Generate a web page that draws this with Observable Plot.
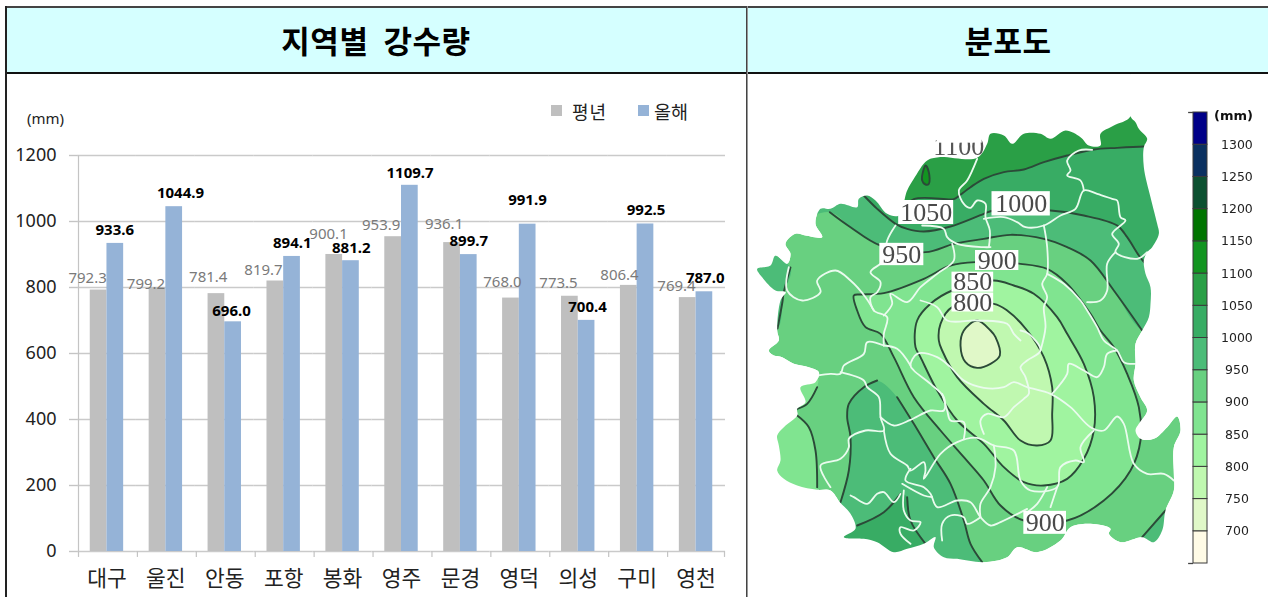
<!DOCTYPE html>
<html lang="ko">
<head>
<meta charset="utf-8">
<script src="https://cdn.jsdelivr.net/npm/d3@7"></script>
<script src="https://cdn.jsdelivr.net/npm/@observablehq/plot@0.6"></script>
<style>
html,body{margin:0;padding:0;background:#fff;overflow:hidden}
#page{position:relative;width:1268px;height:597px;overflow:hidden;font-family:"Noto Sans CJK KR","Noto Sans",sans-serif;color:#000}
#page>div,#page>svg,.abs{position:absolute}
.head{top:8px;height:62px;background:#d5ffff;display:flex;align-items:center;justify-content:center;font-weight:700;font-size:31px;line-height:1;word-spacing:6px;letter-spacing:.5px;padding-bottom:2px}
.line{background:#222}
.svgbox{background:transparent}
.svgbox svg{display:block;background:transparent;overflow:visible}
#map{width:520px;height:523px;overflow:hidden}
#map svg{overflow:hidden}
</style>
</head>
<body>
<div id="page">
  <div class="head" style="left:6px;width:740px">지역별 강수량</div>
  <div class="head" style="left:748px;width:520px">분포도</div>
  <div id="bars" class="svgbox" style="left:6px;top:74px"></div>
  <div id="map" class="svgbox" style="left:748px;top:74px;filter:blur(.55px)"></div>
  <div id="scale" class="svgbox" style="left:1170px;top:100px;filter:blur(.25px)"></div>
  <div class="line" style="left:5px;top:6px;width:1263px;height:2px;background:#444"></div>
  <div class="line" style="left:5px;top:72px;width:1263px;height:2px;background:#111"></div>
  <div class="line" style="left:5px;top:6px;width:1.5px;height:591px;background:#222"></div>
  <div class="line" style="left:746px;top:6px;width:2px;height:591px;background:linear-gradient(90deg,#444 50%,#999 50%)"></div>
  <div style="left:27px;top:108px;font-size:15px;line-height:20px;font-family:'Noto Sans',sans-serif;color:#222">(mm)</div>
  <div style="left:551px;top:105px;width:11px;height:11px;background:#bfbfbf"></div>
  <div style="left:572px;top:100px;font-size:18px;line-height:22px;letter-spacing:1px;color:#222">평년</div>
  <div style="left:638px;top:105px;width:11px;height:11px;background:#95b3d7"></div>
  <div style="left:654px;top:100px;font-size:18.5px;line-height:22px;color:#222">올해</div>
</div>
<script>
// ---------- chart data ----------
const regions = ["대구","울진","안동","포항","봉화","영주","문경","영덕","의성","구미","영천"];
const seriesNames = ["평년","올해"];
const normalValues = [792.3,799.2,781.4,819.7,900.1,953.9,936.1,768.0,773.5,806.4,769.4];
const thisYearValues = [933.6,1044.9,696.0,894.1,881.2,1109.7,899.7,991.9,700.4,992.5,787.0];
const yTicks = [0,200,400,600,800,1000,1200];

// Hand placed offsets of the value labels, in pixels from the top of each bar
const normalLabelDx = [-11,-11.5,-8.2,-11.8,-5.7,-12,-8,-8.5,-11.4,-9.3,-11.2];
const normalLabelDy = [-11.8,-3.6,-16.1,-11,-20,-11.5,-18.8,-15.9,-13.1,-10.2,-11.8];
const thisYearLabelDx = [-0.5,6.3,-1.6,0.2,0.3,0.2,0,-0.2,0.9,0.5,0.8];
const thisYearLabelDy = [-12.9,-13.5,-10.3,-13,-12.9,-11.8,-13.4,-23.7,-13.2,-13.5,-13.3];

// ---------- colour scale of the map ----------
const levelLabels = [700,750,800,850,900,950,1000,1050,1100,1150,1200,1250,1300];
const binLows = [650,700,750,800,850,900,950,1000,1050,1100,1150,1200,1250,1300];
const binColors = ["#fffbe6","#e0f8c8","#c0f8b0","#a0f4a0","#80e490","#68d080","#4cbc78","#38ac64","#2a9f46","#129420","#007400","#0c5030","#0a3060","#000088"];

// ---------- map geometry, in map units ----------
const outline = [[1140,47],[1155,65],[1165,85],[1190,115],[1180,140],[1180,200],[1200,290],[1220,370],[1225,400],[1205,440],[1190,455],[1180,480],[1185,520],[1200,560],[1200,610],[1195,650],[1175,690],[1155,730],[1155,790],[1150,840],[1170,890],[1190,930],[1165,970],[1155,990],[1170,1015],[1210,1015],[1250,980],[1280,948],[1290,990],[1270,1040],[1270,1120],[1270,1170],[1245,1230],[1235,1290],[1210,1325],[1175,1310],[1110,1325],[1075,1300],[1080,1285],[1020,1270],[960,1280],[930,1320],[860,1355],[800,1340],[770,1370],[700,1385],[620,1375],[580,1370],[550,1340],[555,1310],[520,1330],[470,1345],[430,1355],[380,1325],[340,1315],[280,1310],[315,1285],[300,1240],[268,1205],[240,1170],[200,1168],[140,1155],[100,1135],[80,1110],[90,1080],[85,1035],[80,1005],[100,980],[140,945],[140,925],[165,905],[150,860],[195,845],[205,815],[175,800],[130,790],[95,770],[70,765],[55,750],[85,720],[80,690],[90,600],[105,575],[75,570],[35,530],[20,505],[60,495],[75,465],[110,490],[120,460],[105,430],[135,400],[165,405],[215,410],[195,370],[210,325],[240,325],[270,310],[320,320],[325,295],[350,285],[375,300],[410,340],[445,345],[470,270],[490,235],[530,180],[565,170],[680,172],[710,130],[720,100],[760,105],[785,130],[820,100],[870,100],[900,115],[945,90],[990,110],[1015,135],[1050,135],[1050,100],[1090,75]];
const maskFrame = [[1140,-78],[-6,-78],[-6,1491],[1500,1491],[1500,-78]];

const contour1050 = [[445,340],[490,296],[610,296],[620,290],[660,260],[700,235],[760,215],[820,207],[880,185],[950,165],[1030,147],[1100,142],[1180,138],[1200,138]];
const contour1000 = [[340,285],[380,325],[435,370],[470,385],[520,393],[600,378],[700,340],[730,330],[900,330],[1000,345],[1100,375],[1130,410],[1165,465],[1185,490]];
const contour950 = [[238,335],[300,380],[390,435],[525,455],[610,430],[700,415],[780,403],[880,415],[950,440],[1020,480],[1090,570],[1175,690]];
const contour900 = [[310,585],[330,582],[400,578],[520,535],[600,495],[675,485],[810,490],[890,505],[950,550],[1020,640],[1050,690],[1090,740],[1130,820],[1165,920],[1170,1020],[1140,1110],[1060,1200],[950,1260],[820,1260],[750,1215],[700,1140],[640,1070],[570,990],[490,890],[430,770],[390,700],[345,680],[320,630]];
const contour850 = [[605,570],[540,610],[500,660],[495,740],[510,770],[560,870],[620,960],[700,1030],[760,1100],[820,1145],[880,1155],[950,1135],[1000,1075],[1030,990],[1030,890],[1000,790],[950,700],[920,650],[850,580],[790,555],[730,540]];
const contour800 = [[605,620],[570,670],[565,720],[575,750],[620,830],[700,910],[760,960],[810,1020],[860,1035],[900,1020],[905,940],[905,860],[880,770],[830,690],[770,630],[730,610]];
const contour750 = [[640,690],[680,660],[720,690],[735,710],[748,765],[720,790],[680,802],[645,785],[630,735]];
const peak1100 = [[525,195],[535,215],[535,250],[525,252],[515,240],[520,205]];
const southwest950 = [[380,840],[340,860],[295,910],[290,950],[300,1010],[295,1110],[270,1205]];
const southwest950East = [[695,1385],[660,1330],[640,1260],[600,1150],[550,1070],[490,970],[440,890]];
const southwest1000 = [[320,1275],[400,1235],[450,1180]];
const southwest1000East = [[470,1190],[480,1260],[525,1330]];
const westLight = [[140,945],[175,980],[195,1050],[200,1160]];
const westSmall = [[200,860],[170,910],[140,925]];
const westPeninsula = [[120,501],[99,579],[96,603],[81,684]];
const southeastCorner = [[1245,1230],[1175,1310]];

const districtLines = [
 [[680,175],[650,240],[625,270],[640,310],[660,322],[680,300],[705,310],[705,350],[718,390],[715,440]],
 [[700,355],[760,350],[800,365],[825,380],[880,375],[930,345],[975,325],[1000,270],[1040,280],[1085,295],[1100,300],[1110,350],[1125,360],[1085,400],[1105,430],[1095,455],[1160,475],[1190,455]],
 [[1025,148],[985,150],[950,180],[960,210],[950,225],[990,240],[1000,270]],
 [[880,375],[890,440],[890,520],[875,550],[890,590],[880,620],[885,680],[870,750]],
 [[890,520],[940,550],[990,600],[1010,630],[1040,680],[1060,720],[1100,750],[1120,785],[1155,790]],
 [[1095,455],[1070,490],[1070,570],[1050,600],[1010,605]],
 [[435,375],[410,420],[400,480],[360,515],[390,545],[380,575],[360,590],[370,630],[410,650],[400,700],[400,735]],
 [[515,375],[580,385],[590,410],[620,430],[700,440],[720,440]],
 [[605,430],[610,480],[560,520],[510,560],[470,605],[420,580],[425,610],[400,645]],
 [[115,500],[110,570],[155,600],[210,575],[200,540],[255,510],[300,540],[345,590],[370,630]],
 [[510,600],[560,620],[590,660],[680,660],[770,670],[790,700],[810,720]],
 [[400,735],[350,725],[340,760],[280,795],[270,820],[240,820],[200,825]],
 [[400,735],[440,745],[480,795]],
 [[270,815],[340,840],[350,860],[385,890],[390,950],[400,990],[345,990],[295,1015],[295,1040],[270,1075],[210,1095],[240,1160]],
 [[390,950],[430,975],[480,958],[540,930],[580,930],[580,890],[540,850],[490,810],[480,795],[500,760],[560,770],[600,800],[640,840],[700,862],[760,860],[790,845],[830,860],[900,880],[960,920],[1020,980],[1060,990],[1100,948],[1120,970],[1150,1090],[1190,1120],[1240,1120],[1270,1140]],
 [[400,990],[420,1060],[470,1095],[480,1110],[520,1085],[525,1110],[520,1135],[570,1060],[620,1025],[680,1012],[730,1035],[790,1050],[810,1140],[840,1170],[920,1160],[930,1100],[975,1080],[1000,1085],[990,1040],[1030,990]],
 [[480,1105],[465,1140],[520,1160],[540,1180],[560,1220],[620,1200],[660,1205],[690,1250],[720,1275],[750,1265],[830,1225]],
 [[455,1150],[520,1185],[545,1190]],
 [[460,1170],[460,1230],[480,1260],[510,1265],[490,1290],[450,1280],[450,1300],[480,1330]],
 [[300,1185],[310,1190],[350,1210],[380,1180],[400,1175],[430,1205],[450,1180]],
 [[690,1250],[650,1270],[640,1250],[600,1245],[575,1270],[575,1320]],
 [[730,1035],[735,1100],[720,1160],[690,1210],[690,1250]],
 [[640,1015],[640,965],[600,960],[590,930],[575,880]],
 [[700,1000],[690,960],[710,940],[760,950],[790,920],[820,895],[835,880],[825,830],[810,800],[830,780],[870,750],[835,700],[810,690]],
 [[905,880],[950,820],[955,790],[1000,810],[1040,830],[1060,800],[1070,760],[1100,750]],
 [[890,1160],[860,1210],[830,1235]],
 [[920,1160],[900,1220]]
];

const mapLabelTexts = ["800","850","900","950","1050","1000","900"];
const mapLabelCenters = [[667,606],[667,545],[740,480],[454,462],[527,336],[812,310],[884,1267]];
const mapLabelWidths = [125,125,130,132,165,175,128];
const mapLabelHeights = [57,60,60,67,72,73,69];

// ---------- bar chart ----------
const rows = regions.flatMap((region,i)=>[
  {region,series:seriesNames[0],value:normalValues[i],dx:normalLabelDx[i],dy:normalLabelDy[i]},
  {region,series:seriesNames[1],value:thisYearValues[i],dx:thisYearLabelDx[i],dy:thisYearLabelDy[i]}
]);
const barFont = "'Noto Sans',sans-serif";
const axisColor = "#c4c4c4";
const edgeOffset = 20.1;

const bars = Plot.plot({
  width:740,height:523,marginLeft:71,marginRight:21,marginTop:81,marginBottom:46,
  style:{background:"transparent",fontFamily:barFont},
  fx:{domain:regions,padding:0,round:false,axis:null,label:null},
  x:{domain:seriesNames,paddingInner:0,paddingOuter:.763,round:false,axis:null,label:null},
  y:{domain:[0,1200],axis:null,label:null},
  color:{domain:seriesNames,range:["#bfbfbf","#95b3d7"]},
  marks:[
    Plot.gridY(yTicks,{stroke:"#cacaca",strokeOpacity:1,strokeWidth:1.4}),
    Plot.axisY({ticks:yTicks,anchor:"left",tickSize:8,tickPadding:13,stroke:axisColor,strokeWidth:1.4,strokeOpacity:1,fill:"#222",fontSize:18,label:null,tickFormat:d=>String(d)}),
    Plot.barY(rows,{fx:"region",x:"series",y:"value",fill:"series"}),
    Plot.ruleX(regions,{fx:d=>d,x:()=>seriesNames[0],y1:()=>-18,y2:()=>0,dx:-edgeOffset,stroke:axisColor,strokeWidth:1.2}),
    Plot.ruleX(regions.slice(-1),{fx:d=>d,x:()=>seriesNames[1],y1:()=>-18,y2:()=>0,dx:edgeOffset,stroke:axisColor,strokeWidth:1.2}),
    Plot.ruleX(regions.slice(0,1),{fx:d=>d,x:()=>seriesNames[0],y1:()=>0,y2:()=>1200,dx:-edgeOffset,stroke:axisColor,strokeWidth:1.2}),
    Plot.axisFx({anchor:"bottom",tickSize:0,tickPadding:19,fontSize:21.5,fill:"#222",label:null,fontFamily:"'Noto Sans CJK KR',sans-serif"}),
    ...rows.map(d=>Plot.text([d],{fx:"region",x:"series",y:"value",text:r=>r.value.toFixed(1),dx:d.dx,dy:d.dy,
      fontSize:15,fontWeight:d.series===seriesNames[1]?700:400,fill:d.series===seriesNames[1]?"#000":"#7a7a7a"}))
  ]
});
document.getElementById("bars").append(bars);

// ---------- map ----------
const closedFill = (pts,fill)=>Plot.line(pts,{curve:"catmull-rom-closed",fill,stroke:"none"});
const openLine = (pts,curve="catmull-rom")=>Plot.line(pts,{curve,stroke:"#2b4a38",strokeWidth:1.9,fill:"none"});
const band = i=>binColors[i];
const labelRows = mapLabelTexts.map((text,i)=>({text,x:mapLabelCenters[i][0],y:mapLabelCenters[i][1],w:mapLabelWidths[i],h:mapLabelHeights[i]}));

const map = Plot.plot({
  width:520,height:523,margin:0,
  style:{background:"transparent"},
  x:{domain:[0,1290],range:[2,432],axis:null},
  y:{domain:[0,1470],range:[26,516],axis:null},
  marks:[
    Plot.line(outline,{curve:"catmull-rom-closed",fill:band(5),stroke:"none"}),
    closedFill([[-5,400],...contour950,[1300,720],[1300,0],[100,0]],band(6)),
    closedFill([[300,250],...contour1000,[1300,500],[1300,0],[300,0]],band(7)),
    closedFill([...contour1050,[1300,130],[1300,0],[440,0],[420,200]],band(8)),
    closedFill(peak1100,band(9)),
    closedFill([[0,450],...westPeninsula,[0,700]],band(6)),
    closedFill([[0,900],...westLight,[200,1230],[0,1230]],band(4)),
    closedFill([...westSmall,[80,920],[100,840],[200,830]],band(4)),
    closedFill([...southwest950,[240,1430],[720,1430],...southwest950East],band(6)),
    closedFill([[260,1310],...southwest1000,...southwest1000East,[540,1400],[270,1400]],band(7)),
    closedFill([...southeastCorner,[1150,1340],[1300,1340],[1300,1200]],band(6)),
    closedFill(contour900,band(4)),
    closedFill(contour850,band(3)),
    closedFill(contour800,band(2)),
    closedFill(contour750,band(1)),
    ...[contour1050,contour1000,contour950,southwest950,southwest950East,southwest1000,southwest1000East,westLight,westSmall,westPeninsula,southeastCorner].map(c=>openLine(c)),
    ...[contour900,contour850,contour800,contour750,peak1100].map(c=>openLine(c,"catmull-rom-closed")),
    ...districtLines.map(l=>Plot.line(l,{curve:"catmull-rom",stroke:"#eafbee",strokeWidth:1.8,fill:"none"})),
    Plot.line([...maskFrame,maskFrame[0],...outline,outline[0]],{curve:"catmull-rom-closed",fill:"white",stroke:"none"}),
    Plot.text(["1100"],{x:()=>625,y:()=>138,text:d=>d,fontFamily:"'Liberation Serif',serif",fontSize:26,fill:"#555"}),
    Plot.rect(["1100"],{x1:()=>560,x2:()=>695,y1:()=>70,y2:()=>128,fill:"white"}),
    ...labelRows.flatMap(d=>[
      Plot.rect([d],{x1:r=>r.x-r.w/2,x2:r=>r.x+r.w/2,y1:r=>r.y-r.h/2,y2:r=>r.y+r.h/2,fill:"white"}),
      Plot.text([d],{x:"x",y:"y",text:"text",fontFamily:"'Liberation Serif',serif",fontSize:26,fill:"#4a4a4a"})
    ])
  ]
});
document.getElementById("map").append(map);

// ---------- colour bar ----------
const bins = binLows.map((low,i)=>({low,high:low+50,color:binColors[i]}));
const scaleFont = "'DejaVu Sans',sans-serif";
const colorBar = Plot.plot({
  width:98,height:480,margin:0,
  style:{background:"transparent",fontFamily:scaleFont},
  x:{domain:[0,1],range:[23,37],axis:null},
  y:{domain:[650,1350],range:[463,12],axis:null},
  marks:[
    Plot.rect(bins,{x1:()=>0,x2:()=>1,y1:"low",y2:"high",fill:"color",stroke:"#3a3a3a",strokeWidth:1}),
    Plot.ruleY([650,1350],{x1:()=>-.35,x2:()=>0,stroke:"#444",strokeWidth:1.3}),
    Plot.text(levelLabels,{x:()=>3.1,y:d=>d,text:d=>String(d),fontSize:12.5,fill:"#222"}),
    Plot.text(["(mm)"],{x:()=>2.86,y:()=>1345,text:d=>d,fontSize:13,fontWeight:700,fill:"#111"})
  ]
});
document.getElementById("scale").append(colorBar);
</script>
</body>
</html>
